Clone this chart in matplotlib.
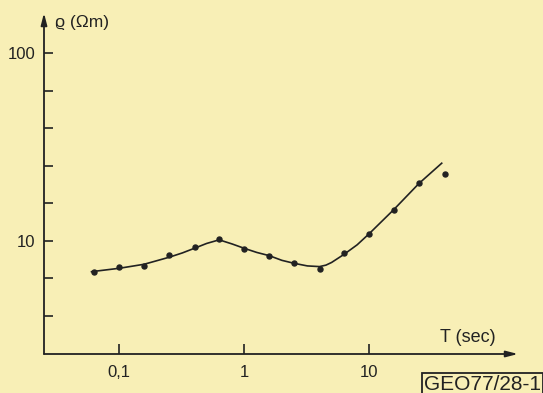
import numpy as np
import matplotlib
matplotlib.use("Agg")
import matplotlib.pyplot as plt
from matplotlib.ticker import FixedLocator, NullLocator, NullFormatter, FixedFormatter

# measured apparent resistivity (dots)
period_pts = [0.063, 0.1, 0.158, 0.25, 0.4, 0.63, 1.0, 1.58, 2.5, 4.0, 6.3, 10, 15.8, 25, 40]
rho_pts = [6.83, 7.27, 7.36, 8.39, 9.29, 10.17, 9.03, 8.29, 7.63, 7.04, 8.57, 10.8, 14.6, 20.2, 22.7]

# model curve
period_curve = [0.06, 0.1, 0.158, 0.25, 0.32, 0.4, 0.5, 0.63, 0.8, 1.0, 1.26, 1.58, 2.0,
                2.5, 3.2, 4.0, 4.5, 5.0, 6.3, 8.0, 10, 15.8, 25, 38]
rho_curve = [6.83, 7.12, 7.48, 8.15, 8.6, 9.11, 9.66, 10.1, 9.6, 9.1, 8.65, 8.32, 7.85,
             7.57, 7.33, 7.27, 7.4, 7.65, 8.46, 9.5, 10.9, 14.7, 20.2, 25.9]

x_major = [0.1, 1, 10]
x_labels = ["0,1", "1", "10"]
y_major = [10, 100]
y_labels = ["10", "100"]
y_minor = [10 ** e for e in (0.6, 0.8, 1.2, 1.4, 1.6, 1.8)]

PAPER = "#f8efb6"
INK = "#222222"
W, H = 543, 393

plt.rcParams["font.family"] = ["Liberation Sans", "DejaVu Sans"]

fig = plt.figure(figsize=(W / 100, H / 100), dpi=100, facecolor=PAPER)
ax = fig.add_axes([44 / W, (H - 354) / H, (518 - 44) / W, (354 - 13) / H])
ax.set_facecolor(PAPER)
ax.set_xscale("log")
ax.set_yscale("log")
ax.set_xlim(10 ** -1.602, 10 ** 2.19)
ax.set_ylim(10 ** 0.395, 10 ** 2.215)

ax.plot(period_curve, rho_curve, color=INK, lw=1.2)
ax.plot(period_pts, rho_pts, "o", color=INK, ms=3.6)

for s in ax.spines.values():
    s.set_visible(False)
arrow = dict(arrowstyle="-|>,head_length=0.7,head_width=0.18", color=INK, lw=1.3,
             shrinkA=0, shrinkB=0)
ax.annotate("", xy=(1, 0), xytext=(0, 0), xycoords="axes fraction", arrowprops=arrow)
ax.annotate("", xy=(0, 1), xytext=(0, 0), xycoords="axes fraction", arrowprops=arrow)

ax.xaxis.set_major_locator(FixedLocator(x_major))
ax.xaxis.set_major_formatter(FixedFormatter(x_labels))
ax.xaxis.set_minor_locator(NullLocator())
ax.yaxis.set_major_locator(FixedLocator(y_major))
ax.yaxis.set_major_formatter(FixedFormatter(y_labels))
ax.yaxis.set_minor_locator(FixedLocator(y_minor))
ax.yaxis.set_minor_formatter(NullFormatter())
ax.tick_params(axis="x", which="major", direction="in", length=7.5, width=1.2,
               color=INK, labelcolor=INK, labelsize=12, pad=8)
ax.tick_params(axis="y", which="both", direction="in", length=6.5, width=1.2,
               color=INK, labelcolor=INK, labelsize=12, pad=6)

fig.text(55 / W, 1 - 23 / H, "ϱ (Ωm)", fontsize=12.5, color=INK, va="center", ha="left")
fig.text(440 / W, 1 - 337 / H, "T (sec)", fontsize=13, color=INK, va="center", ha="left")
fig.text(424 / W, 1 - 375 / H, "GEO77/28-1", fontsize=15, color=INK, va="top", ha="left",
         bbox=dict(boxstyle="square,pad=0.1", fc="none", ec=INK, lw=1.3))

fig.savefig("out.png", dpi=100, facecolor=PAPER)
